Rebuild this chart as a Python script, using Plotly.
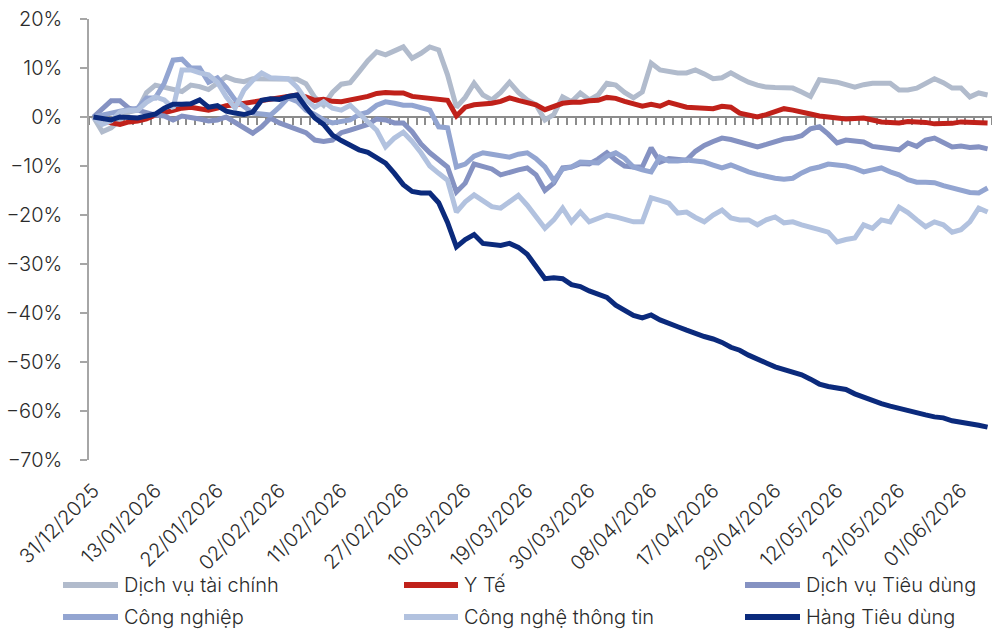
import plotly.graph_objects as go

dates = [
    "31/12/2025", "05/01/2026", "06/01/2026", "07/01/2026", "08/01/2026", "09/01/2026", "12/01/2026", "13/01/2026",
    "14/01/2026", "15/01/2026", "16/01/2026", "19/01/2026", "20/01/2026", "21/01/2026", "22/01/2026",
    "23/01/2026", "26/01/2026", "27/01/2026", "28/01/2026", "29/01/2026", "30/01/2026", "02/02/2026",
    "03/02/2026", "04/02/2026", "05/02/2026", "06/02/2026", "09/02/2026", "10/02/2026", "11/02/2026",
    "12/02/2026", "13/02/2026", "23/02/2026", "24/02/2026", "25/02/2026", "26/02/2026", "27/02/2026",
    "02/03/2026", "03/03/2026", "04/03/2026", "05/03/2026", "06/03/2026", "09/03/2026", "10/03/2026",
    "11/03/2026", "12/03/2026", "13/03/2026", "16/03/2026", "17/03/2026", "18/03/2026", "19/03/2026",
    "20/03/2026", "23/03/2026", "24/03/2026", "25/03/2026", "26/03/2026", "27/03/2026", "30/03/2026",
    "31/03/2026", "01/04/2026", "02/04/2026", "03/04/2026", "06/04/2026", "07/04/2026", "08/04/2026",
    "09/04/2026", "10/04/2026", "13/04/2026", "14/04/2026", "15/04/2026", "16/04/2026", "17/04/2026",
    "20/04/2026", "21/04/2026", "22/04/2026", "23/04/2026", "24/04/2026", "28/04/2026", "29/04/2026",
    "04/05/2026", "05/05/2026", "06/05/2026", "07/05/2026", "08/05/2026", "11/05/2026", "12/05/2026",
    "13/05/2026", "14/05/2026", "15/05/2026", "18/05/2026", "19/05/2026", "20/05/2026", "21/05/2026",
    "22/05/2026", "25/05/2026", "26/05/2026", "27/05/2026", "28/05/2026", "29/05/2026", "01/06/2026",
    "02/06/2026", "03/06/2026", "04/06/2026",
]

tick_labels = [
    "31/12/2025", "13/01/2026", "22/01/2026", "02/02/2026", "11/02/2026", "27/02/2026", "10/03/2026",
    "19/03/2026", "30/03/2026", "08/04/2026", "17/04/2026", "29/04/2026", "12/05/2026", "21/05/2026",
    "01/06/2026",
]

dich_vu_tai_chinh = [
    0, -3.0, -2.2, -0.5, 1.0, 1.4, 5.0, 6.5, 6.0, 5.5, 5.2, 6.5, 6.2, 5.6, 7.0, 8.2, 7.5, 7.2, 7.8, 7.8,
    7.6, 7.6, 7.6, 7.7, 6.8, 4.0, 2.4, 5.0, 6.7, 7.0, 9.2, 11.5, 13.3, 12.7, 13.5, 14.3, 12.0, 13.0, 14.3, 13.7,
    8.6, 2.0, 4.0, 6.9, 4.5, 3.5, 5.0, 7.1, 5.0, 3.5, 2.5, -0.6, 0.5, 4.1, 3.1, 4.9, 3.5, 4.5, 6.9, 6.5,
    5.0, 3.9, 5.1, 11.0, 9.6, 9.2, 9.0, 9.0, 9.6, 8.8, 7.8, 8.0, 9.0, 8.0, 7.1, 6.5, 6.1, 6.0, 5.9, 5.9,
    5.1, 4.2, 7.6, 7.4, 7.1, 6.6, 6.1, 6.6, 6.9, 6.9, 6.9, 5.5, 5.5, 5.9, 6.8, 7.8, 7.0, 5.9, 5.9, 4.1,
    4.9, 4.5,
]

y_te = [
    0, -0.6, -1.2, -1.5, -1.0, -0.8, -0.4, 0.4, 0.9, 1.3, 1.8, 2.0, 1.8, 1.4, 1.8, 2.3, 2.5, 2.8, 3.0, 3.4,
    3.8, 3.9, 4.4, 4.5, 4.1, 3.4, 3.6, 3.2, 3.1, 3.4, 3.8, 4.2, 4.8, 5.0, 4.9, 4.9, 4.2, 4.0, 3.8, 3.6,
    3.4, 0.2, 2.0, 2.5, 2.6, 2.8, 3.2, 3.9, 3.4, 3.0, 2.5, 1.5, 2.2, 2.8, 3.0, 3.0, 3.3, 3.4, 4.0, 3.8,
    3.2, 2.8, 2.2, 2.6, 2.2, 3.0, 2.4, 2.0, 1.9, 1.8, 1.7, 2.2, 2.0, 0.8, 0.3, 0.0, 0.5, 1.0, 1.7, 1.4,
    1.1, 0.6, 0.2, 0.0, -0.2, -0.4, -0.3, -0.2, -0.6, -1.0, -1.1, -1.2, -0.9, -0.9, -1.1, -1.4, -1.4, -1.3, -1.0, -1.0,
    -1.0, -1.2,
]

dich_vu_tieu_dung = [
    0, 1.8, 3.3, 3.3, 1.8, 1.4, 0.8, 0.4, 0.2, -0.6, 0.2, 0.0, -0.4, -0.8, -0.6, 0.0, -1.2, -2.4, -3.3, -2.0,
    -0.2, -1.2, -1.8, -2.4, -3.2, -4.7, -5.0, -4.7, -3.2, -2.7, -2.2, -1.5, -0.4, -0.6, -1.2, -1.2, -3.0, -5.5, -7.3, -8.8,
    -10.2, -15.3, -13.5, -9.6, -10.0, -10.6, -11.8, -11.2, -10.8, -10.4, -11.8, -15.0, -13.5, -10.4, -10.2, -9.5, -9.6, -8.6, -7.3, -8.8,
    -10.0, -10.2, -10.2, -6.3, -9.2, -8.5, -8.6, -8.8, -7.0, -5.8, -5.0, -4.3, -4.6, -5.1, -5.5, -6.1, -5.6, -5.0, -4.5, -4.3,
    -3.8, -2.4, -2.0, -3.5, -5.3, -4.7, -4.9, -5.1, -6.0, -6.3, -6.5, -6.7, -5.3, -6.0, -4.7, -4.3, -5.2, -6.1, -5.9, -6.2,
    -6.1, -6.5,
]

cong_nghiep = [
    0, 0.5, 0.8, 1.2, 1.4, 1.8, 3.9, 3.9, 6.9, 11.6, 11.8, 10.0, 10.0, 7.1, 8.0, 6.0, 3.5, 2.2, 0.8, 0.6,
    0.4, 2.0, 3.9, 3.2, 1.4, 0.5, -0.6, -1.2, -0.8, -0.6, 0.5, 1.0, 2.4, 3.1, 2.8, 2.4, 2.4, 1.8, 1.4, -2.0,
    -2.2, -10.2, -9.6, -8.0, -7.3, -7.6, -7.8, -8.2, -7.6, -7.3, -8.5, -10.2, -13.0, -10.6, -10.2, -9.2, -9.3, -9.4, -8.0, -7.3,
    -8.4, -10.2, -10.8, -11.2, -8.2, -9.0, -9.0, -8.8, -9.0, -9.2, -9.8, -10.4, -9.8, -10.6, -11.2, -11.7, -12.2, -12.5, -12.7, -12.5,
    -11.4, -10.6, -10.2, -9.6, -9.8, -10.0, -10.5, -11.2, -10.8, -10.4, -11.2, -11.8, -12.8, -13.3, -13.3, -13.4, -14.0, -14.5, -14.9, -15.4,
    -15.5, -14.5,
]

cong_nghe_thong_tin = [
    0, -1.5, -0.8, 1.0, 1.4, 1.4, 3.0, 4.1, 3.5, 1.8, 9.6, 9.6, 9.0, 8.6, 7.1, 4.1, 1.8, 5.5, 7.5, 9.0,
    8.0, 7.9, 7.8, 6.1, 3.5, 2.0, 3.1, 1.8, 1.4, 2.4, 0.8, -0.8, -2.7, -6.1, -4.3, -3.1, -5.0, -7.3, -10.0, -11.5,
    -12.9, -19.4, -17.3, -15.9, -17.0, -18.3, -18.6, -17.3, -16.0, -18.0, -20.4, -22.7, -21.0, -18.6, -21.4, -19.4, -21.4, -20.7, -20.0, -20.4,
    -21.0, -21.4, -21.4, -16.5, -17.0, -17.6, -19.6, -19.4, -20.5, -21.4, -20.0, -19.0, -20.6, -21.0, -21.0, -22.0, -21.0, -20.4, -21.6, -21.4,
    -22.0, -22.4, -23.0, -23.5, -25.5, -25.0, -24.7, -22.0, -22.7, -21.0, -21.4, -18.4, -19.5, -21.0, -22.4, -21.4, -22.0, -23.5, -23.0, -21.4,
    -18.6, -19.4,
]

hang_tieu_dung = [
    0, -0.4, -0.6, 0.0, 0.0, -0.2, 0.2, 0.6, 1.8, 2.6, 2.6, 2.7, 3.5, 2.0, 2.3, 1.2, 0.8, 0.5, 1.0, 3.4,
    3.7, 3.6, 4.2, 4.5, 2.0, -0.2, -1.5, -3.7, -4.8, -5.8, -6.7, -7.2, -8.2, -9.4, -11.5, -13.8, -15.2, -15.5, -15.5, -17.5,
    -21.5, -26.5, -25.0, -24.0, -25.8, -26.0, -26.2, -25.8, -26.6, -28.0, -30.5, -33.0, -32.8, -33.0, -34.2, -34.6, -35.5, -36.2, -36.8, -38.4,
    -39.6, -40.5, -41.0, -40.4, -41.4, -42.0, -42.8, -43.5, -44.2, -44.8, -45.3, -46.0, -47.0, -47.6, -48.6, -49.3, -50.2, -51.0, -51.5, -52.0,
    -52.6, -53.5, -54.5, -55.0, -55.3, -55.6, -56.5, -57.2, -58.0, -58.5, -59.0, -59.5, -59.9, -60.3, -60.8, -61.2, -61.4, -62.0, -62.4, -62.6,
    -62.9, -63.3,
]

series_names = ["Dịch vụ tài chính", "Y Tế", "Dịch vụ Tiêu dùng", "Công nghiệp", "Công nghệ thông tin", "Hàng Tiêu dùng"]
series_values = [dich_vu_tai_chinh, y_te, dich_vu_tieu_dung, cong_nghiep, cong_nghe_thong_tin, hang_tieu_dung]
series_colors = ["#B1BBCC", "#C0211A", "#8592C2", "#93A5D1", "#B2C2DF", "#0B2A7C"]

FONT = "Inter, Lato, sans-serif"
FS = 20
TEXT_COLOR = "#2B2B2B"
AXIS_GRAY = "#8C8C8C"

W, H = 992, 632
ML, MR, MT, MB = 89, 0, 19, 172
PW, PH = W - ML - MR, H - MT - MB
Y_MIN, Y_MAX = -70, 20

fig = go.Figure()

# carrier for the zero-line category axis (invisible)
fig.add_trace(go.Scatter(x=[0], y=[0], xaxis="x2", yaxis="y", mode="markers",
                         marker=dict(opacity=0), hoverinfo="skip", showlegend=False))

for name, vals, col in zip(series_names, series_values, series_colors):
    fig.add_trace(go.Scatter(x=dates, y=vals, name=name, mode="lines",
                             line=dict(color=col, width=5), showlegend=False))

n = len(dates)
fig.update_layout(
    width=W, height=H,
    margin=dict(l=ML, r=MR, t=MT, b=MB, autoexpand=False),
    paper_bgcolor="white", plot_bgcolor="white",
    font=dict(family=FONT, size=FS, color=TEXT_COLOR, weight=300),
    xaxis=dict(type="category", categoryarray=dates, range=[-0.5, n - 0.5], automargin=False,
               tickvals=tick_labels, ticktext=tick_labels, tickangle=-45,
               ticks="", showline=False, showgrid=False, zeroline=False,
               ticklabelstandoff=14, tickfont=dict(size=FS, color=TEXT_COLOR, weight=300)),
    xaxis2=dict(overlaying="x", anchor="free", position=(0 - Y_MIN) / (Y_MAX - Y_MIN), automargin=False,
                range=[-0.5, n - 0.5], tick0=-0.5, dtick=1, ticks="outside", ticklen=7,
                tickwidth=2, tickcolor=AXIS_GRAY, showline=True, linecolor=AXIS_GRAY, linewidth=2,
                showticklabels=False, showgrid=False, zeroline=False, layer="below traces"),
    yaxis=dict(range=[Y_MIN, Y_MAX], dtick=10, ticksuffix="%", ticks="outside", ticklen=7, automargin=False,
               tickwidth=1.5, tickcolor="#A6A6A6", showline=True, linecolor="#A6A6A6", linewidth=1.5,
               showgrid=False, zeroline=False, ticklabelstandoff=14,
               tickfont=dict(size=FS, color=TEXT_COLOR, weight=300)),
)

# legend (3 columns x 2 rows): line samples + text
legend_cols_px = [(63, 118, 122), (404, 458, 462), (745, 800, 804)]
legend_rows_px = [585, 617]
for k, idx in enumerate(range(len(series_names))):
    r, c = divmod(k, 3)
    x0, x1, xt = legend_cols_px[c]
    yp = legend_rows_px[r]
    yy = (H - MB - yp) / PH
    fig.add_shape(type="line", xref="paper", yref="paper",
                  x0=(x0 - ML) / PW, x1=(x1 - ML) / PW, y0=yy, y1=yy,
                  line=dict(color=series_colors[idx], width=6))
    fig.add_annotation(text=series_names[idx], xref="paper", yref="paper",
                       x=(xt - ML) / PW, y=yy, xanchor="left", yanchor="middle",
                       showarrow=False, font=dict(family=FONT, size=FS, color=TEXT_COLOR, weight=300))

fig.write_html("out.html", config={"displayModeBar": False},
               post_script="document.body.style.margin='0';document.body.style.overflow='hidden';")
